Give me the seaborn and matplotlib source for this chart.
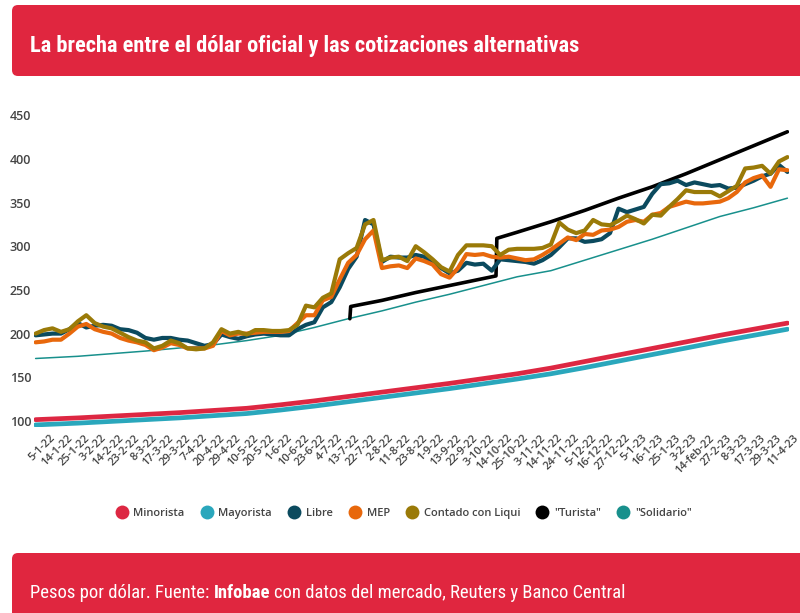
import numpy as np
import pandas as pd
import seaborn as sns
import matplotlib
matplotlib.use('Agg')
import matplotlib.pyplot as plt
import matplotlib.transforms as mtransforms
from matplotlib import font_manager
from matplotlib.lines import Line2D
from matplotlib.patches import FancyBboxPatch

# etiquetas del eje x (una cada ~7 ruedas)
fechas = ['5-1-22', '14-1-22', '25-1-22', '3-2-22', '14-2-22', '23-2-22', '8-3-22', '17-3-22',
          '29-3-22', '7-4-22', '20-4-22', '29-4-22', '10-5-22', '20-5-22', '1-6-22', '10-6-22',
          '23-6-22', '4-7-22', '13-7-22', '22-7-22', '2-8-22', '11-8-22', '23-8-22', '1-9-22',
          '13-9-22', '22-9-22', '3-10-22', '14-10-22', '25-10-22', '3-11-22', '14-11-22', '24-11-22',
          '5-12-22', '16-12-22', '27-12-22', '5-1-23', '16-1-23', '25-1-23', '3-2-23', '14-feb-22',
          '27-2-23', '8-3-23', '17-3-23', '29-3-23', '11-4-23']

# cotizaciones libres, media etiqueta entre puntos
x_libres = np.arange(-0.5, 44.01, 0.5)
libre = [198, 199, 200, 200, 205, 212, 207, 209, 210, 209,
         205, 204, 201, 195, 193, 195, 195, 193, 192, 189,
         186, 188, 199, 196, 194, 197, 199, 200, 199, 198,
         198, 205, 210, 213, 230, 236, 253, 274, 288, 330,
         325, 282, 288, 287, 287, 290, 288, 280, 275, 269,
         272, 281, 279, 280, 272, 285, 284, 283, 282, 280,
         284, 290, 299, 309, 309, 305, 306, 308, 315, 343,
         339, 342, 345, 360, 371, 372, 375, 370, 373, 371,
         369, 370, 366, 367, 371, 375, 380, 383, 393, 385]
mep = [190, 191, 193, 193, 200, 208, 211, 205, 202, 200,
       195, 192, 190, 187, 181, 184, 189, 187, 183, 183,
       183, 186, 203, 198, 200, 200, 201, 202, 202, 202,
       203, 212, 221, 221, 238, 242, 262, 281, 290, 308,
       318, 275, 277, 278, 275, 286, 283, 279, 268, 264,
       275, 291, 290, 291, 288, 287, 288, 286, 284, 285,
       290, 296, 303, 310, 307, 314, 313, 318, 319, 322,
       328, 330, 328, 336, 338, 345, 348, 351, 349, 349,
       350, 351, 355, 362, 373, 378, 381, 368, 388, 387]
ccl = [200, 204, 206, 202, 205, 214, 221, 212, 208, 206,
       201, 196, 192, 190, 183, 186, 192, 189, 183, 182,
       183, 190, 205, 200, 202, 199, 204, 204, 203, 203,
       204, 210, 232, 230, 241, 246, 285, 292, 298, 325,
       330, 284, 287, 288, 283, 300, 293, 285, 276, 271,
       290, 301, 301, 301, 300, 290, 296, 297, 297, 297,
       298, 302, 327, 319, 315, 318, 330, 325, 324, 329,
       335, 331, 326, 336, 335, 345, 354, 364, 362, 362,
       362, 357, 363, 369, 389, 390, 392, 383, 397, 402]

# cotizaciones oficiales, cada dos etiquetas
x_oficial = [-0.5, 2, 4, 6, 8, 10, 12, 14, 16, 18, 20, 22, 24, 26, 28, 30, 32, 34, 36, 38, 40, 42, 44]
minorista = [101.5, 103.5, 105.5, 107.5, 109.5, 112, 114.5, 118.5, 123, 128, 133, 138,
             143, 148.5, 154, 160.5, 168, 175.5, 183, 190.5, 198, 205, 212]
mayorista = [95.5, 97.5, 99.5, 101.5, 103.5, 106, 108.5, 112.5, 117, 122, 127, 132,
             137, 142.5, 148, 154, 161, 168.5, 176, 183.5, 191, 198, 205]
solidario = [171.5, 174, 177, 180, 183.5, 187, 192, 198, 207, 217, 226, 236,
             245, 255, 265, 272, 284, 296, 308, 321, 334, 344, 355]

x_turista = [18.1, 18.15, 20, 22, 24, 26, 26.75, 26.8, 28, 30, 32, 34, 36, 38, 40, 42, 44]
turista = [217, 231, 238, 247, 255, 263, 266, 309, 316, 328, 341, 355, 368, 383, 399, 415, 431]

series = [
    ('Minorista', x_oficial, minorista),
    ('Mayorista', x_oficial, mayorista),
    ('"Solidario"', x_oficial, solidario),
    ('"Turista"', x_turista, turista),
    ('Libre', x_libres, libre),
    ('MEP', x_libres, mep),
    ('Contado con Liqui', x_libres, ccl),
]
colores = {'Minorista': '#dd2742', 'Mayorista': '#2aa7bc', 'Libre': '#0b4a5e', 'MEP': '#e8680c',
           'Contado con Liqui': '#9a7a08', '"Turista"': '#000000', '"Solidario"': '#18908c'}
anchos = {'Minorista': 3.4, 'Mayorista': 3.4, 'Libre': 3.0, 'MEP': 3.0,
          'Contado con Liqui': 3.0, '"Turista"': 2.6, '"Solidario"': 1.1}
orden_dibujo = [s[0] for s in series]
orden_leyenda = ['Minorista', 'Mayorista', 'Libre', 'MEP', 'Contado con Liqui', '"Turista"', '"Solidario"']

df = pd.concat([pd.DataFrame({'x': xs, 'valor': ys, 'serie': nombre}) for nombre, xs, ys in series],
               ignore_index=True)

sns.set_style('white')
nombres = {f.name for f in font_manager.fontManager.ttflist}
estrecha = None
for candidata in ['Roboto Condensed', 'Liberation Sans Narrow', 'Open Sans Condensed', 'Ubuntu Condensed']:
    if candidata in nombres:
        estrecha = candidata
        break
plt.rcParams['font.family'] = ['Open Sans', 'DejaVu Sans']

fig = plt.figure(figsize=(8, 6.13), dpi=100)
ax = fig.add_axes([0.0424, 0.3033, 0.944, 0.5231])

sns.lineplot(data=df, x='x', y='valor', hue='serie', size='serie', hue_order=orden_dibujo,
             size_order=orden_dibujo, palette=colores, sizes=anchos, estimator=None, sort=False,
             legend=False, ax=ax)

ax.set_xlim(-0.6, 44.1)
ax.set_ylim(93, 460)
ax.set_yticks(range(100, 451, 50))
ax.set_xticks(range(len(fechas)))
ax.set_xticklabels(fechas, rotation=45, ha='right', rotation_mode='anchor')
ax.set_xlabel('')
ax.set_ylabel('')
for s in ax.spines.values():
    s.set_visible(False)
ax.tick_params(axis='both', length=0)
ax.tick_params(axis='y', pad=2, labelsize=9, labelcolor='#444444')
ax.tick_params(axis='x', pad=4, labelsize=8, labelcolor='#444444')
for lab in ax.get_yticklabels() + ax.get_xticklabels():
    lab.set_fontweight('semibold')
desplazar = mtransforms.ScaledTranslation(0.06, 0, fig.dpi_scale_trans)
for lab in ax.get_xticklabels():
    lab.set_transform(lab.get_transform() + desplazar)

manijas = [Line2D([], [], linestyle='none', marker='o', markersize=10, markerfacecolor=colores[n],
                  markeredgecolor='none') for n in orden_leyenda]
fig.legend(manijas, orden_leyenda, loc='center', bbox_to_anchor=(0.503, 0.163), ncol=7, frameon=False,
           handlelength=1.5, handletextpad=0.3, columnspacing=1.25,
           prop={'size': 8, 'weight': 'semibold'}, labelcolor='#444444')

# cabecera y pie
rojo = '#e0263f'
fig.add_artist(FancyBboxPatch((0.12, 5.37), 8.3, 0.71, boxstyle='round,pad=0,rounding_size=0.06',
                              transform=fig.dpi_scale_trans, facecolor=rojo, edgecolor='none', zorder=-1))
fig.add_artist(FancyBboxPatch((0.12, -0.3), 8.3, 0.90, boxstyle='round,pad=0,rounding_size=0.06',
                              transform=fig.dpi_scale_trans, facecolor=rojo, edgecolor='none', zorder=-1))

if estrecha:
    familia, tam_titulo, tam_pie = estrecha, 16.1, 13.4
else:
    familia, tam_titulo, tam_pie = 'Roboto', 14.4, 11.6
fig.text(0.0375, 0.925, 'La brecha entre el dólar oficial y las cotizaciones alternativas',
         color='white', fontsize=tam_titulo, fontweight='bold', family=familia, va='center', ha='left')
t1 = fig.text(0.0375, 0.0245, 'Pesos por dólar. Fuente:', color='white', fontsize=tam_pie,
              family=familia, va='baseline', ha='left')
t2 = ax.annotate('Infobae', xy=(1, 0), xycoords=t1, xytext=(3, 0), textcoords='offset points',
                 color='white', fontsize=tam_pie, fontweight='bold', family=familia,
                 va='bottom', ha='left', annotation_clip=False)
ax.annotate('con datos del mercado, Reuters y Banco Central', xy=(1, 0), xycoords=t2, xytext=(3, 0),
            textcoords='offset points', color='white', fontsize=tam_pie, family=familia,
            va='bottom', ha='left', annotation_clip=False)

fig.savefig('out.png', dpi=100)
